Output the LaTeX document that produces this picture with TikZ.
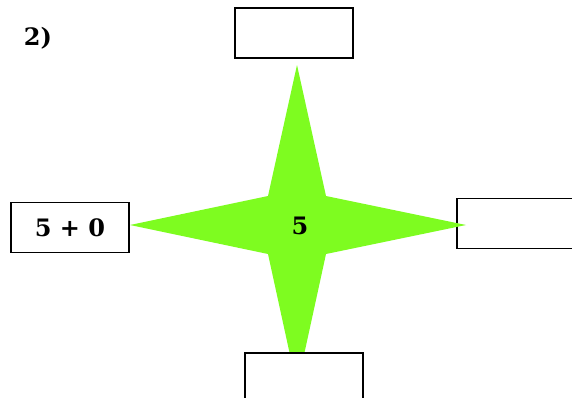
\documentclass[tikz,border=0pt]{standalone}
\usepackage{fontspec}
\setmainfont{DejaVu Serif}
\definecolor{stargreen}{RGB}{126,252,32}
\tikzset{
  answerbox/.style={draw=black, line width=1.8pt, fill=white, inner sep=0pt,
    minimum width=118pt, minimum height=50pt, font=\fontsize{24}{28}\selectfont\bfseries},
  lbl/.style={inner sep=0pt, font=\fontsize{24}{28}\selectfont\bfseries}
}
\begin{document}
\begin{tikzpicture}[x=1pt,y=-1pt]
\useasboundingbox (0,0) rectangle (572,397);
% right box (under the star tip)
\node[answerbox] (rbox) at (516,223.5) {};
% star
\coordinate (T) at (297,65);
\coordinate (R) at (466,225);
\coordinate (B) at (297,387);
\coordinate (L) at (130,225);
\coordinate (i1) at (326,196);
\coordinate (i2) at (326,254);
\coordinate (i3) at (268,254);
\coordinate (i4) at (268,196);
\fill[stargreen] (T) -- (i1) -- (R) -- (i2) -- (B) -- (i3) -- (L) -- (i4) -- cycle;
% boxes
\node[answerbox] (tbox) at (294,33) {};
\node[answerbox] (lbox) at (70,227.5) {5 + 0};
\node[answerbox] (bbox) at (304,378) {};
% labels
\node[lbl] (center) at (300,226) {5};
\node[lbl] (num) at (38,38) {2)};
\end{tikzpicture}
\end{document}
